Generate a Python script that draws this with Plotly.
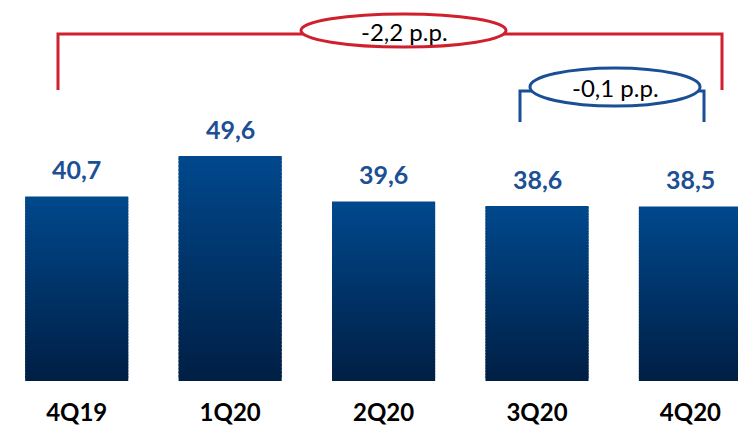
import plotly.graph_objects as go

quarters = ["4Q19", "1Q20", "2Q20", "3Q20", "4Q20"]
ratio = [40.7, 49.6, 39.6, 38.6, 38.5]
bracket_labels = ["-2,2 p.p.", "-0,1 p.p."]

# gradient ends (bottom -> top)
bottom_rgb = (0, 31, 69)
top_rgb = (0, 72, 140)
n_slices = 60

fig = go.Figure()

# fake a vertical gradient by stacking thin slices of each bar
for i in range(n_slices):
    t = i / (n_slices - 1)
    col = "rgb(%d,%d,%d)" % tuple(round(b + (tp - b) * t) for b, tp in zip(bottom_rgb, top_rgb))
    bases = [v * i / n_slices for v in ratio]
    heights = [min(v / n_slices * 1.6, v - b) for v, b in zip(ratio, bases)]
    fig.add_trace(go.Bar(x=quarters, y=heights, base=bases, width=0.672,
                         marker=dict(color=col, line=dict(width=0)),
                         hoverinfo="skip", showlegend=False))

for q, v in zip(quarters, ratio):
    fig.add_annotation(x=q, y=v, yshift=27, showarrow=False,
                       text=f"{v:.1f}".replace(".", ","),
                       font=dict(family="Lato", size=25, color="#1c4f94", weight="bold"))

W, H_plot = 738, 381
px = lambda x: x / W
py = lambda y: (H_plot - y) / H_plot

red = "#d0202e"
blue = "#1a4f96"

# red bracket 4Q19 -> 4Q20
fig.add_shape(type="path", xref="paper", yref="paper",
              path=f"M {px(58)} {py(90)} L {px(58)} {py(34)} L {px(722)} {py(34)} L {px(722)} {py(90)}",
              line=dict(color=red, width=3))
fig.add_shape(type="circle", xref="paper", yref="paper",
              x0=px(301), x1=px(506), y0=py(47), y1=py(14),
              line=dict(color=red, width=3), fillcolor="white")
fig.add_annotation(xref="paper", yref="paper", x=px(404), y=py(31), showarrow=False,
                   xanchor="center", yanchor="middle",
                   text=bracket_labels[0], font=dict(family="Lato", size=24, color="black"))

# blue bracket 3Q20 -> 4Q20
fig.add_shape(type="path", xref="paper", yref="paper",
              path=f"M {px(520)} {py(122)} L {px(520)} {py(91)} L {px(704)} {py(91)} L {px(704)} {py(122)}",
              line=dict(color=blue, width=3))
fig.add_shape(type="circle", xref="paper", yref="paper",
              x0=px(530), x1=px(700), y0=py(106), y1=py(68),
              line=dict(color=blue, width=3), fillcolor="white")
fig.add_annotation(xref="paper", yref="paper", x=px(615), y=py(87), showarrow=False,
                   xanchor="center", yanchor="middle",
                   text=bracket_labels[1], font=dict(family="Lato", size=24, color="black"))

fig.update_layout(
    width=738, height=427, barmode="overlay",
    margin=dict(l=0, r=0, t=0, b=46, autoexpand=False),
    plot_bgcolor="white", paper_bgcolor="white",
    xaxis=dict(range=[-0.5, 4.31], showgrid=False, zeroline=False, showline=False, ticks="",
               tickfont=dict(family="Lato", size=24, color="black", weight="bold"),
               ticklabelstandoff=15, automargin=False),
    yaxis=dict(range=[0, 84], visible=False, automargin=False),
)

fig.write_html("out.html", config={"displayModeBar": False},
               post_script="document.body.style.margin='0';")
